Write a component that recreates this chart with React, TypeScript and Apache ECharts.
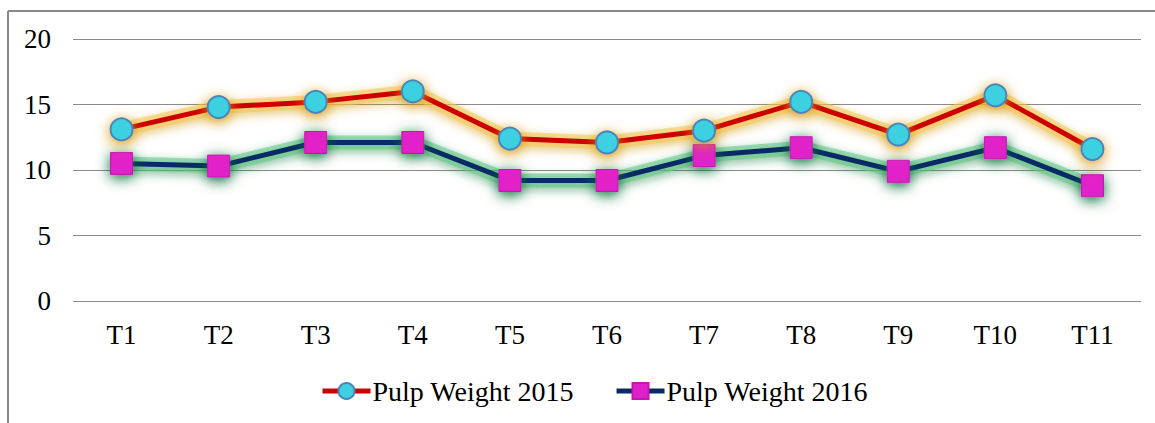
import React, { useEffect, useRef } from "react";
import * as echarts from "echarts";

const categories = ["T1", "T2", "T3", "T4", "T5", "T6", "T7", "T8", "T9", "T10", "T11"];
const pulp2015 = [13.1, 14.8, 15.2, 16.0, 12.4, 12.1, 13.0, 15.2, 12.7, 15.7, 11.6];
const pulp2016 = [10.5, 10.3, 12.1, 12.1, 9.2, 9.2, 11.1, 11.7, 9.9, 11.7, 8.8];
const yTicks = { min: 0, max: 20, interval: 5 };

const FONT = "'Liberation Serif', 'Times New Roman', serif";

export default function App() {
  const ref = useRef<HTMLDivElement>(null);
  useEffect(() => {
    if (!ref.current) return;
    const chart = echarts.init(ref.current, undefined, { renderer: "svg" });
    chart.setOption({
      animation: false,
      backgroundColor: "#ffffff",
      graphic: [
        { type: "line", shape: { x1: 8, y1: 11, x2: 1155, y2: 11 }, style: { stroke: "#888888", lineWidth: 2 } },
        { type: "line", shape: { x1: 8, y1: 11, x2: 8, y2: 423 }, style: { stroke: "#888888", lineWidth: 2 } },
      ],
      grid: { left: 73, right: 14, top: 39, height: 262, containLabel: false },
      legend: {
        top: 372,
        left: 315,
        itemWidth: 48,
        itemHeight: 20,
        itemGap: 40,
        lineStyle: { width: 5 },
        itemStyle: { shadowBlur: 0, shadowOffsetY: 0, shadowColor: "transparent" },
        textStyle: { fontFamily: FONT, fontSize: 28, color: "#000", padding: [0, 0, 0, -3] },
        data: ["Pulp Weight 2015", "Pulp Weight 2016"],
      },
      xAxis: {
        type: "category",
        data: categories,
        boundaryGap: true,
        axisLine: { show: false },
        axisTick: { show: false },
        axisLabel: { fontFamily: FONT, fontSize: 27, color: "#000", margin: 20 },
      },
      yAxis: {
        type: "value",
        min: yTicks.min,
        max: yTicks.max,
        interval: yTicks.interval,
        axisLine: { show: false },
        axisTick: { show: false },
        axisLabel: { fontFamily: FONT, fontSize: 27, color: "#000", margin: 22 },
        splitLine: { lineStyle: { color: "#8a8a8a", width: 1 } },
      },
      series: [
        {
          name: "glow2016",
          type: "line",
          data: pulp2016,
          symbol: "none",
          silent: true,
          lineStyle: {
            color: "rgba(90,200,130,0.55)",
            width: 14,
            shadowColor: "rgba(20,130,60,0.9)",
            shadowBlur: 10,
            shadowOffsetY: 3,
          },
          z: 1,
        },
        {
          name: "glow2015",
          type: "line",
          data: pulp2015,
          symbol: "none",
          silent: true,
          lineStyle: {
            color: "rgba(245,200,80,0.55)",
            width: 14,
            shadowColor: "rgba(210,150,10,0.9)",
            shadowBlur: 10,
            shadowOffsetY: 3,
          },
          z: 1,
        },
        {
          name: "Pulp Weight 2015",
          type: "line",
          data: pulp2015,
          symbol: "circle",
          symbolSize: 22,
          lineStyle: { color: "#cc0000", width: 5 },
          itemStyle: {
            color: "#3ed0e0",
            borderColor: "#4a86b8",
            borderWidth: 2,
            shadowColor: "rgba(215,150,10,1)",
            shadowBlur: 14,
            shadowOffsetY: 3,
          },
          z: 4,
        },
        {
          name: "Pulp Weight 2016",
          type: "line",
          data: pulp2016,
          symbol: "rect",
          symbolSize: 22,
          lineStyle: { color: "#0a2a66", width: 5 },
          itemStyle: {
            color: "#e020c8",
            borderColor: "#c018b0",
            borderWidth: 1,
            shadowColor: "rgba(15,110,55,1)",
            shadowBlur: 14,
            shadowOffsetY: 3,
          },
          z: 3,
        },
      ],
    });
    return () => chart.dispose();
  }, []);
  return (
    <div
      ref={ref}
      style={{ position: "absolute", left: 0, top: 0, width: 1155, height: 423 }}
    />
  );
}
